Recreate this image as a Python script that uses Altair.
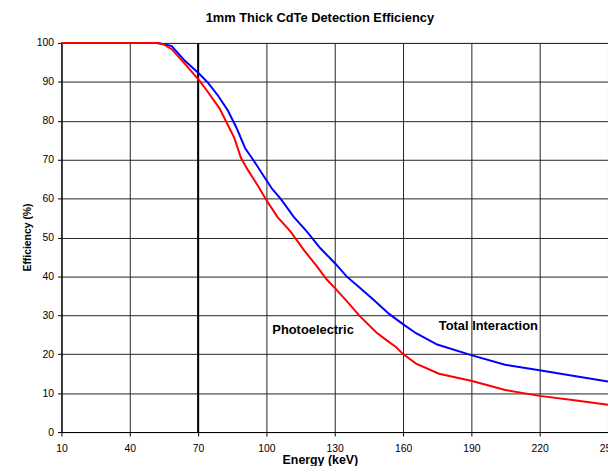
import altair as alt
import pandas as pd

# Total interaction efficiency (blue)
energy_total = [10, 52, 55, 58.4, 64.2, 70.6, 74.3, 78.7, 83, 86.7, 90.6, 94.6, 99,
                102.6, 106.2, 112, 117.8, 123.6, 130.4, 135.2, 141, 146.8, 154,
                159.8, 165.7, 175, 190.3, 204.8, 219.9, 235.2, 250]
eff_total = [100, 100, 99.7, 99.2, 95.4, 92.0, 89.8, 86.5, 82.7, 78.4, 73.0, 69.6, 65.6,
             62.4, 60.0, 55.3, 51.5, 47.3, 43.2, 40.0, 37.1, 34.1, 30.3,
             27.8, 25.4, 22.5, 19.7, 17.3, 15.9, 14.4, 13.0]

# Photoelectric efficiency (red)
energy_photo = [10, 52, 55, 58.4, 64.2, 70.6, 74.3, 79.4, 82.3, 85.9, 88.8, 91.7, 96.8,
                100, 104.8, 110.6, 116.4, 122.2, 126.5, 130.4, 135.2, 141, 148.3,
                153, 157, 159.9, 165.7, 175.8, 190.3, 196, 204.8, 219.9, 235.2, 250]
eff_photo = [100, 100, 99.6, 98.4, 94.6, 90.3, 87.4, 83.2, 79.8, 75.6, 70.5, 67.5, 62.8,
             59.6, 55.3, 51.5, 46.8, 42.6, 39.2, 36.8, 33.7, 29.8, 25.6,
             23.5, 21.8, 20.1, 17.6, 15.0, 13.1, 12.2, 10.8, 9.3, 8.2, 7.0]

x_ticks = [10, 40, 70, 100, 130, 160, 190, 220, 250]
y_ticks = [0, 10, 20, 30, 40, 50, 60, 70, 80, 90, 100]
marker_energy = [70]

label_text = ["Photoelectric", "Total Interaction"]
label_x = [102.6, 175.7]
label_y = [26.2, 27.2]

FONT = "Liberation Sans"

df_total = pd.DataFrame({"energy": energy_total, "eff": eff_total})
df_photo = pd.DataFrame({"energy": energy_photo, "eff": eff_photo})
df_marker = pd.DataFrame({"energy": marker_energy})
df_labels = pd.DataFrame({"energy": label_x, "eff": label_y, "text": label_text})

x_scale = alt.Scale(domain=[10, 250], nice=False, zero=False)
y_scale = alt.Scale(domain=[0, 100], nice=False)

x_axis = alt.Axis(values=x_ticks, title="Energy (keV)", titleX=261, titleY=32,
                  titleBaseline="alphabetic", titleFontSize=12.5,
                  labelPadding=8, labelFlush=False)
y_axis = alt.Axis(values=y_ticks, title="Efficiency (%)", titleX=-34, titleY=196,
                  titleBaseline="middle", titleFontSize=10.5, labelPadding=4)

base_x = alt.X("energy:Q", scale=x_scale, axis=x_axis)
base_y = alt.Y("eff:Q", scale=y_scale, axis=y_axis)

marker = alt.Chart(df_marker).mark_rule(color="#000000", strokeWidth=2).encode(
    x=alt.X("energy:Q", scale=x_scale, axis=x_axis)
)

blue = alt.Chart(df_total).mark_line(color="#0000FF", strokeWidth=2).encode(
    x=base_x, y=base_y
)
red = alt.Chart(df_photo).mark_line(color="#FF0000", strokeWidth=2).encode(
    x=base_x, y=base_y
)

labels = alt.Chart(df_labels).mark_text(
    align="left", baseline="middle", font=FONT, fontSize=13, fontWeight="bold", color="#000000"
).encode(x=base_x, y=base_y, text="text:N")

chart = alt.layer(marker, blue, red, labels).properties(
    width=552,
    height=393,
    padding={"left": 54, "top": 33, "right": 0, "bottom": 32},
    autosize=alt.AutoSizeParams(type="none"),
    title=alt.TitleParams(
        "1mm Thick CdTe Detection Efficiency",
        font=FONT, fontSize=13, fontWeight="bold", color="#000000",
        anchor="middle", frame="group", dx=-15, offset=13,
    ),
    background="#FFFFFF",
).configure_axis(
    gridColor="#222222",
    gridWidth=1,
    gridOpacity=1,
    domainColor="#000000",
    domainWidth=1,
    tickColor="#000000",
    tickSize=4,
    labelFont=FONT,
    labelFontSize=10.5,
    labelColor="#000000",
    titleFont=FONT,
    titleFontWeight="bold",
    titleColor="#000000",
).configure_view(
    stroke="#888888",
    strokeWidth=1,
)

chart.save("out.html", embed_options={"renderer": "svg", "actions": False})
